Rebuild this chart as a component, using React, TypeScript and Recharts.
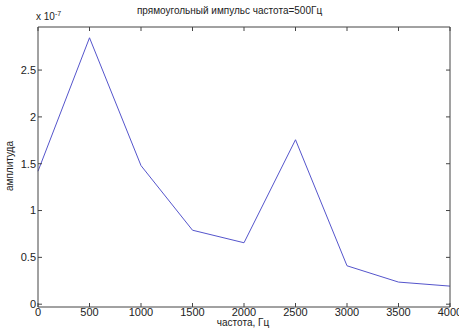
import { LineChart, Line, XAxis, YAxis } from "recharts";

// spectrum of a rectangular pulse, amplitude in units of 1e-7
const freqs = [0, 500, 1000, 1500, 2000, 2500, 3000, 3500, 4000];
const amps = [1.42, 2.845, 1.48, 0.79, 0.656, 1.756, 0.41, 0.236, 0.193];
const xTicks = [0, 500, 1000, 1500, 2000, 2500, 3000, 3500, 4000];
const yTicks = [0, 0.5, 1, 1.5, 2, 2.5];

const data = freqs.map((f, i) => ({ f, a: amps[i] }));

const font = "'Liberation Sans', Arial, sans-serif";
const axisColor = "#444";
const tick = { fontSize: 11, fill: "#222", fontFamily: font };
const noLabel = () => <g />;

export default function App() {
  return (
    <div style={{ position: "absolute", left: 0, top: 0, width: 459, height: 329, background: "#fff", fontFamily: font, color: "#222" }}>
      <div style={{ position: "absolute", left: 0, width: 459, top: 5, textAlign: "center", fontSize: 10 }}>
        прямоугольный импульс частота=500Гц
      </div>
      <div style={{ position: "absolute", left: 36, top: 10, fontSize: 10 }}>
        x 10<sup style={{ fontSize: 7 }}>-7</sup>
      </div>
      <div style={{ position: "absolute", left: 243, top: 317, fontSize: 10, lineHeight: "11px", transform: "translateX(-50%)", whiteSpace: "nowrap" }}>
        частота, Гц
      </div>
      <div style={{ position: "absolute", left: 9, top: 166, fontSize: 10, transform: "translate(-50%, -50%) rotate(-90deg)", whiteSpace: "nowrap" }}>
        амплитуда
      </div>
      <LineChart width={459} height={329} data={data} margin={{ top: 22, right: 4, bottom: 0, left: 0 }}>
        <XAxis
          xAxisId="b" dataKey="f" type="number" domain={[0, 4000]} ticks={xTicks}
          height={22} tick={tick} tickSize={-4} tickMargin={5}
          stroke={axisColor} interval={0}
        />
        <XAxis
          xAxisId="t" dataKey="f" type="number" orientation="top" domain={[0, 4000]} ticks={xTicks}
          height={5} tick={noLabel} tickSize={-4} stroke={axisColor} interval={0}
        />
        <YAxis
          yAxisId="l" type="number" domain={[-0.03, 2.96]} ticks={yTicks}
          width={38} tick={tick} tickSize={-4} tickMargin={6} stroke={axisColor} interval={0}
        />
        <YAxis
          yAxisId="r" type="number" orientation="right" domain={[-0.03, 2.96]} ticks={yTicks}
          width={5} tick={noLabel} tickSize={-4} stroke={axisColor} interval={0}
        />
        {/* invisible copy so the top/right frame axes get drawn */}
        <Line
          xAxisId="t" yAxisId="r" dataKey="a" type="linear" stroke="none"
          dot={false} activeDot={false} isAnimationActive={false}
        />
        <Line
          xAxisId="b" yAxisId="l" dataKey="a" type="linear" stroke="#5555cc" strokeWidth={1}
          dot={false} activeDot={false} isAnimationActive={false}
        />
      </LineChart>
    </div>
  );
}
